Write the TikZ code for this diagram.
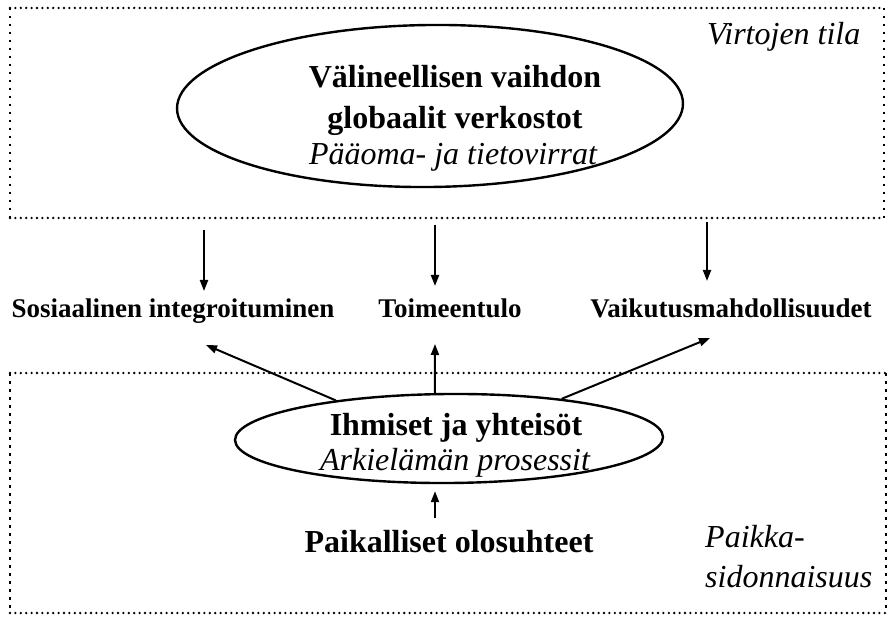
\documentclass[tikz,border=0pt]{standalone}
\usepackage{fontspec}
\setmainfont{Liberation Serif}[ItalicFont={Liberation Serif Italic},BoldFont={Liberation Serif Bold}]
\usetikzlibrary{arrows.meta,shapes.geometric}
\begin{document}
\begin{tikzpicture}[x=1pt,y=-1pt,
 hdots/.style={line width=2.6pt, dash pattern=on 0pt off 5.4pt, line cap=round},
 vdots/.style={line width=1.8pt, dash pattern=on 2.5pt off 5.5pt},
 oval/.style={draw, ellipse, line width=2.4pt, inner sep=0pt},
 title/.style={font=\fontsize{32}{36}\selectfont\bfseries, inner sep=0pt, anchor=base},
 sub/.style={font=\fontsize{32}{36}\selectfont\itshape, inner sep=0pt, anchor=base},
 outcome/.style={font=\fontsize{27}{30}\selectfont\bfseries, inner sep=0pt, anchor=base},
 arr/.style={line width=2pt, -{Triangle[length=11pt,width=8pt]}},
]
\useasboundingbox (0,0) rectangle (888,617);
% dotted frames
\draw[hdots] (10,8) -- (884,8);
\draw[hdots] (10,218) -- (884,218);
\draw[vdots] (10,8) -- (10,218);
\draw[vdots] (884,8) -- (884,218);
\draw[hdots] (10,373) -- (886,373);
\draw[hdots] (10,613) -- (886,613);
\draw[vdots] (10,373) -- (10,613);
\draw[vdots] (886,373) -- (886,613);
% ellipses
\node[oval, rotate=0.6, minimum width=506pt, minimum height=162pt] (globe) at (430,106) {};
\node[oval, rotate=0.4, minimum width=428pt, minimum height=89pt] (people) at (449,438.5) {};
% texts
\node[title] (g1) at (455,88) {Välineellisen vaihdon};
\node[title] (g2) at (455,129) {globaalit verkostot};
\node[sub] (g3) at (453,165) {Pääoma- ja tietovirrat};
\node[sub, anchor=base west] (vt) at (707,45) {Virtojen tila};
\node[title] (p1) at (456,435) {Ihmiset ja yhteisöt};
\node[sub] (p2) at (455,470) {Arkielämän prosessit};
\node[title] (paik) at (449,552) {Paikalliset olosuhteet};
\node[sub, anchor=base west] (ps1) at (705,547) {Paikka-};
\node[sub, anchor=base west] (ps2) at (705,587) {sidonnaisuus};
\node[outcome] (soc) at (173,317) {Sosiaalinen integroituminen};
\node[outcome] (toim) at (450,317) {Toimeentulo};
\node[outcome] (vaik) at (731,317) {Vaikutusmahdollisuudet};
% arrows from the space of flows
\coordinate (d1) at (204,230); \coordinate (t1) at (204,291);
\coordinate (d2) at (435,225); \coordinate (t2) at (435,286);
\coordinate (d3) at (707,222); \coordinate (t3) at (707,281);
\draw[arr] (d1) -- (t1);
\draw[arr] (d2) -- (t2);
\draw[arr] (d3) -- (t3);
% arrows from people
\coordinate (u1) at (206,345);
\coordinate (u2) at (435,344);
\coordinate (u3) at (710,338);
\draw[arr] (people.161) -- (u1);
\draw[arr] (people.107) -- (u2);
\draw[arr] (people.19) -- (u3);
% local conditions
\coordinate (m) at (435,518);
\draw[arr, shorten >=7pt] (m) -- (m |- people.south);
\end{tikzpicture}
\end{document}
